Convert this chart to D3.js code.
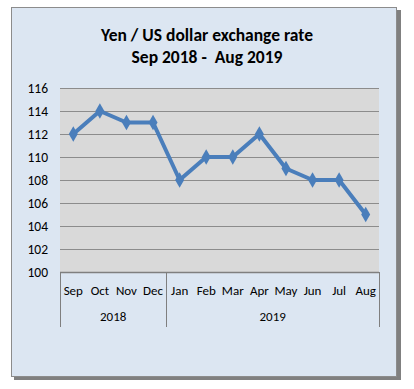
<!DOCTYPE html>
<html>
<head>
<meta charset="utf-8">
<script src="https://cdn.jsdelivr.net/npm/d3@7"></script>
<style>
  body { margin: 0; background: #fff; }
  text { font-family: Carlito, Lato, "Open Sans", sans-serif; fill: #000; }
</style>
</head>
<body>
<div id="chart"></div>
<script>
// Data
const months = ["Sep", "Oct", "Nov", "Dec", "Jan", "Feb", "Mar", "Apr", "May", "Jun", "Jul", "Aug"];
const years = ["2018", "2018", "2018", "2018", "2019", "2019", "2019", "2019", "2019", "2019", "2019", "2019"];
const rates = [112, 114, 113, 113, 108, 110, 110, 112, 109, 108, 108, 105];
const yTicks = [100, 102, 104, 106, 108, 110, 112, 114, 116];

const width = 414, height = 389;
const plot = { left: 60, right: 379, top: 88, bottom: 272 };

const svg = d3.select("#chart").append("svg")
    .attr("width", width)
    .attr("height", height);

// Frame with shadow
svg.append("rect")
    .attr("x", 14).attr("y", 10)
    .attr("width", 387).attr("height", 370)
    .attr("fill", "#808080");
svg.append("rect")
    .attr("x", 11.5).attr("y", 7.5)
    .attr("width", 385).attr("height", 369)
    .attr("fill", "#dce6f2")
    .attr("stroke", "#8c8c8c")
    .attr("stroke-width", 1);

// Title
const title = svg.append("text")
    .attr("x", 207)
    .attr("text-anchor", "middle")
    .attr("font-weight", "bold")
    .attr("font-size", 17.5);
title.append("tspan").attr("x", 207).attr("y", 41).text("Yen / US dollar exchange rate");
title.append("tspan").attr("x", 207).attr("y", 63).attr("xml:space", "preserve").text("Sep 2018 -  Aug 2019");

// Scales
const x = d3.scaleBand()
    .domain(months.map((m, i) => i))
    .range([plot.left, plot.right])
    .padding(0);

const y = d3.scaleLinear()
    .domain([100, 116])
    .range([plot.bottom, plot.top]);

// Plot area
svg.append("rect")
    .attr("x", plot.left).attr("y", plot.top)
    .attr("width", plot.right - plot.left)
    .attr("height", plot.bottom - plot.top)
    .attr("fill", "#d9d9d9");

// Gridlines
svg.append("g")
    .selectAll("line")
    .data(yTicks.slice(1))
    .enter()
    .append("line")
    .attr("x1", plot.left).attr("x2", plot.right)
    .attr("y1", d => Math.round(y(d)) + 0.5)
    .attr("y2", d => Math.round(y(d)) + 0.5)
    .attr("stroke", "#8c8c8c")
    .attr("stroke-width", 1);

// Y axis labels
const yAxis = svg.append("g")
    .attr("transform", `translate(${plot.left},0)`)
    .call(d3.axisLeft(y).tickValues(yTicks).tickSize(0).tickPadding(12));
yAxis.select(".domain").remove();
yAxis.selectAll("text")
    .attr("font-size", 13.5)
    .attr("font-family", "Carlito, Lato, 'Open Sans', sans-serif")
    .attr("fill", "#000");

// X axis line
svg.append("line")
    .attr("x1", plot.left).attr("x2", plot.right)
    .attr("y1", plot.bottom + 0.5).attr("y2", plot.bottom + 0.5)
    .attr("stroke", "#7f7f7f")
    .attr("stroke-width", 1.5);

// Month labels
svg.append("g")
    .selectAll("text")
    .data(months)
    .enter()
    .append("text")
    .attr("x", (d, i) => x(i) + x.bandwidth() / 2)
    .attr("y", 295)
    .attr("text-anchor", "middle")
    .attr("font-size", 13)
    .text(d => d);

// Year groups
const groups = d3.groups(months.map((m, i) => ({ i, year: years[i] })), d => d.year);
svg.append("g")
    .selectAll("text")
    .data(groups)
    .enter()
    .append("text")
    .attr("x", d => (x(d[1][0].i) + x(d[1][d[1].length - 1].i) + x.bandwidth()) / 2)
    .attr("y", 321)
    .attr("text-anchor", "middle")
    .attr("font-size", 13)
    .text(d => d[0]);

// Group separators
const seps = [0].concat(groups.map(g => g[1][g[1].length - 1].i + 1));
svg.append("g")
    .selectAll("line")
    .data(seps)
    .enter()
    .append("line")
    .attr("x1", d => d < months.length ? Math.round(x(d)) + 0.5 : plot.right + 0.5)
    .attr("x2", d => d < months.length ? Math.round(x(d)) + 0.5 : plot.right + 0.5)
    .attr("y1", plot.bottom)
    .attr("y2", 327)
    .attr("stroke", "#7f7f7f")
    .attr("stroke-width", 1);

// Line
const line = d3.line()
    .x((d, i) => x(i) + x.bandwidth() / 2)
    .y(d => y(d));

svg.append("path")
    .datum(rates)
    .attr("d", line)
    .attr("fill", "none")
    .attr("stroke", "#4a7ebb")
    .attr("stroke-width", 4)
    .attr("stroke-linejoin", "round");

// Markers
svg.append("g")
    .selectAll("path")
    .data(rates)
    .enter()
    .append("path")
    .attr("d", d3.symbol().type(d3.symbolDiamond).size(70))
    .attr("transform", (d, i) => `translate(${x(i) + x.bandwidth() / 2},${y(d)})`)
    .attr("fill", "#4a7ebb");
</script>
</body>
</html>
